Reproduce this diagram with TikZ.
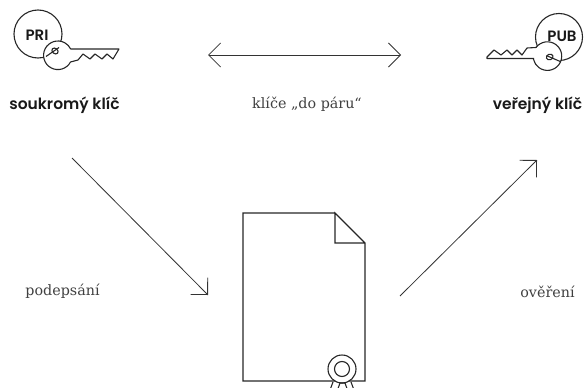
\documentclass[tikz,border=0pt]{standalone}
\usepackage{fontspec}
\setmainfont{DejaVu Serif}
\newfontfamily\boldlabel{Poppins SemiBold}
\usetikzlibrary{arrows.meta}
\tikzset{
  line/.style={draw=black!85,line width=1.1pt},
  flow/.style={draw=black!80,line width=0.8pt,{-{Straight Barb[length=12pt,width=24pt,line width=0.8pt]}}},
  both/.style={draw=black!80,line width=0.8pt,{{Straight Barb[length=12pt,width=24pt,line width=0.8pt]}-{Straight Barb[length=12pt,width=24pt,line width=0.8pt]}}},
  serifl/.style={text=black!75,font=\fontsize{14.3}{17}\selectfont,inner sep=0pt},
  boldl/.style={text=black!90,font=\boldlabel\fontsize{15.5}{18}\selectfont,inner sep=0pt},
  keyl/.style={text=black!90,font=\boldlabel\fontsize{15}{17}\selectfont,inner sep=0pt}
}
\begin{document}
\begin{tikzpicture}[x=1pt,y=-1pt]
\useasboundingbox (0,0) rectangle (584,388);
% private key
\draw[line] (38,34) circle (24);
\node[keyl] (pri) at (37,35) {PRI};
\fill[white] (57.5,55) circle (14);
\draw[line,line join=round] (71,49) -- (119,49) -- (113,59) -- (107,54) -- (102,59) -- (95,54) -- (90,59) -- (83,54) -- (78,60) -- (70.5,62)
   arc[start angle=28,end angle=335,radius=14.3];
\draw[line,rotate around={-40:(55,51)}] (55,51) ellipse (3.4 and 2.6);
\draw[line] (46,56.5) -- (59,47.5);
% public key
\draw[line] (559,37) circle (23.5);
\node[keyl] (pub) at (562,36.5) {PUB};
\fill[white] (547.5,56) circle (14);
\draw[line,line join=round] (534,58.5) -- (487,58.5) -- (487,57) -- (494,50) -- (501,55) -- (507,50) -- (512,55) -- (517,50) -- (522,55) -- (527,48) -- (536,47.5)
   arc[start angle=217,end angle=527,radius=14.3];
\draw[line,rotate around={20:(549.7,57)}] (549.7,57) ellipse (3.4 and 2.8);
\draw[line] (546.7,55.7) -- (560.7,61.7);
% labels
\node[boldl] (soukromy) at (64.5,105) {soukromý klíč};
\node[boldl] (verejny) at (537.5,105) {veřejný klíč};
\node[serifl] (pair) at (307,104.5) {klíče „do páru“};
\node[serifl] (sign) at (62.5,291) {podepsání};
\node[serifl] (verify) at (547.5,292) {ověření};
% arrows
\coordinate (a1) at (208,55); \coordinate (a2) at (401,55);
\draw[both] (a1) -- (a2);
\coordinate (b1) at (72,158); \coordinate (b2) at (208,295);
\draw[flow] (b1) -- (b2);
\coordinate (c1) at (400,296); \coordinate (c2) at (537,160);
\draw[flow] (c1) -- (c2);
% document
\draw[line] (335,213) -- (243,213) -- (243,381) -- (365,381) -- (365,243) -- (335,213) -- (335,243) -- (365,243);
\begin{scope}
\clip (320,350) rectangle (365,388);
\draw[line,fill=white] (342,369) circle (14);
\draw[line] (342,369) circle (7.5);
\draw[line] (333,382) -- (330,390);
\draw[line] (351,382) -- (354,390);
\draw[line] (337.5,390) -- (340,383) -- (345,383) -- (347.5,390);
\end{scope}
\end{tikzpicture}
\end{document}
